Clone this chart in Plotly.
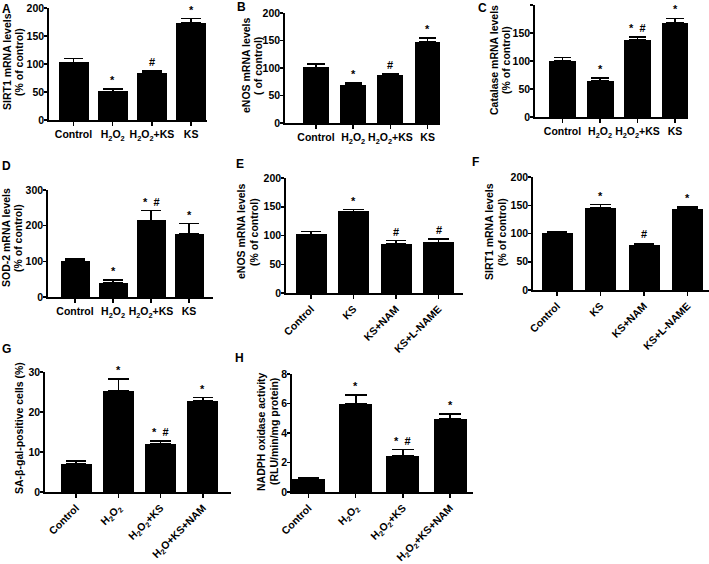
import plotly.graph_objects as go

W, H = 709, 564

# ---------------- data ----------------
cats_abcd = ["Control", "H<sub>2</sub>O<sub>2</sub>", "H<sub>2</sub>O<sub>2</sub>+KS", "KS"]
cats_ef = ["Control", "KS", "KS+NAM", "KS+L-NAME"]
cats_g = ["Control", "H<sub>2</sub>O<sub>2</sub>", "H<sub>2</sub>O<sub>2</sub>+KS", "H<sub>2</sub>O+KS+NAM"]
cats_h = ["Control", "H<sub>2</sub>O<sub>2</sub>", "H<sub>2</sub>O<sub>2</sub>+KS", "H<sub>2</sub>O<sub>2</sub>+KS+NAM"]

sirt1_mean = [103, 51, 84, 173]
sirt1_err = [7, 4, 4, 8]
sirt1_sig = ["", "*", "#", "*"]

enos_mean = [101, 69.5, 87, 148]
enos_err = [6, 3, 2, 7]
enos_sig = ["", "*", "#", "*"]

catalase_mean = [100, 65, 137, 168]
catalase_err = [6, 5, 6, 8]
catalase_sig = ["", "*", "* #", "*"]

sod2_mean = [102, 39, 215, 177]
sod2_err = [5, 9, 27, 29]
sod2_sig = ["", "*", "* #", "*"]

enos2_mean = [102, 142, 85, 88]
enos2_err = [5, 3, 6, 6]
enos2_sig = ["", "*", "#", "#"]

sirt1b_mean = [101, 146, 80.5, 143]
sirt1b_err = [2, 5, 2, 4]
sirt1b_sig = ["", "*", "#", "*"]

sagal_mean = [7.0, 25.2, 12.0, 22.8]
sagal_err = [0.8, 3.0, 0.8, 0.8]
sagal_sig = ["", "*", "* #", "*"]

nadph_mean = [0.88, 6.0, 2.45, 4.95]
nadph_err = [0.1, 0.57, 0.42, 0.33]
nadph_sig = ["", "*", "* #", "*"]

panels = [
    dict(letter="A", cats=cats_abcd, mean=sirt1_mean, err=sirt1_err, sig=sirt1_sig,
         title=["SIRT1 mRNA levels", "(% of control)"], ymax=200, dtick=50, angle=0),
    dict(letter="B", cats=cats_abcd, mean=enos_mean, err=enos_err, sig=enos_sig,
         title=["eNOS mRNA levels", "( of control)"], ymax=200, dtick=50, angle=0),
    dict(letter="C", cats=cats_abcd, mean=catalase_mean, err=catalase_err, sig=catalase_sig,
         title=["Catalase mRNA levels", "(% of control)"], ymax=200, dtick=50, angle=0),
    dict(letter="D", cats=cats_abcd, mean=sod2_mean, err=sod2_err, sig=sod2_sig,
         title=["SOD-2 mRNA levels", "(% of control)"], ymax=300, dtick=100, angle=0),
    dict(letter="E", cats=cats_ef, mean=enos2_mean, err=enos2_err, sig=enos2_sig,
         title=["eNOS mRNA levels", "(% of control)"], ymax=200, dtick=50, angle=-45),
    dict(letter="F", cats=cats_ef, mean=sirt1b_mean, err=sirt1b_err, sig=sirt1b_sig,
         title=["SIRT1 mRNA levels", "(% of control)"], ymax=200, dtick=50, angle=-45),
    dict(letter="G", cats=cats_g, mean=sagal_mean, err=sagal_err, sig=sagal_sig,
         title=["SA-β-gal-positive cells (%)"], ymax=30, dtick=10, angle=-45),
    dict(letter="H", cats=cats_h, mean=nadph_mean, err=nadph_err, sig=nadph_sig,
         title=["NADPH oxidase activity", "(RLU/min/mg protein)"], ymax=8, dtick=2, angle=-45),
]

# ---------------- geometry (pixels) ----------------
geom = {
    "A": dict(x0=49, x1=207, c0=73.5, s=39.2, bw=30, y0=120, yt=8, tx=[7, 19], ty=62, lx=6, ly=9),
    "B": dict(x0=285, x1=440, c0=316, s=37.2, bw=26, y0=123, yt=13, tx=[246, 258], ty=66, lx=241, ly=7),
    "C": dict(x0=535, x1=688, c0=562.5, s=37.5, bw=27, y0=117, yt=5, tx=[494, 506], ty=60, lx=482, ly=8),
    "D": dict(x0=48, x1=213, c0=75, s=38, bw=29, y0=297, yt=190, tx=[6, 18], ty=238, lx=6, ly=166),
    "E": dict(x0=286, x1=463, c0=311, s=42.5, bw=31, y0=293, yt=178, tx=[241, 254], ty=232, lx=240, ly=164),
    "F": dict(x0=533, x1=709, c0=557, s=43.5, bw=31, y0=290, yt=177, tx=[489, 502], ty=232, lx=476, ly=162),
    "G": dict(x0=45, x1=231, c0=76, s=42.3, bw=31, y0=492, yt=372, tx=[19], ty=428, lx=6, ly=349),
    "H": dict(x0=292, x1=473, c0=308.5, s=47.2, bw=33, y0=492, yt=374, tx=[261, 274], ty=432, lx=240, ly=358),
}

FONT = "Liberation Sans, Arial, sans-serif"
fig = go.Figure()
annotations = []
layout = {}

for i, p in enumerate(panels):
    g = geom[p["letter"]]
    n = i + 1
    xa = "xaxis" if n == 1 else f"xaxis{n}"
    ya = "yaxis" if n == 1 else f"yaxis{n}"
    xr = "x" if n == 1 else f"x{n}"
    yr = "y" if n == 1 else f"y{n}"
    s = g["s"]
    xmin = -(g["c0"] - g["x0"]) / s
    xmax = 3 + (g["x1"] - (g["c0"] + 3 * s)) / s
    xs = list(range(len(p["cats"])))
    fig.add_trace(go.Bar(
        x=xs, y=p["mean"], width=g["bw"] / s, marker=dict(color="black", line=dict(width=0)),
        error_y=dict(type="data", array=p["err"], arrayminus=[0] * len(xs), symmetric=False,
                     color="black", thickness=1.6, width=g["bw"] * 0.33),
        xaxis=xr, yaxis=yr, showlegend=False, hoverinfo="skip"))
    layout[xa] = dict(
        domain=[g["x0"] / W, g["x1"] / W], range=[xmin, xmax], anchor=yr, automargin=False,
        tickvals=xs, ticktext=p["cats"], tickangle=p["angle"],
        showline=True, linecolor="black", linewidth=1.8, ticks="outside", ticklen=4,
        tickwidth=1.5, tickcolor="black", showgrid=False, zeroline=False,
        tickfont=dict(family=FONT, size=10.5, color="black", weight="bold"), fixedrange=True)
    layout[ya] = dict(
        domain=[1 - g["y0"] / H, 1 - g["yt"] / H], range=[0, p["ymax"]], anchor=xr, automargin=False,
        dtick=p["dtick"], showline=True, linecolor="black", linewidth=1.8, ticks="outside",
        ticklen=3, tickwidth=1.5, tickcolor="black", showgrid=False, zeroline=False,
        ticklabelstandoff=-2,
        tickfont=dict(family=FONT, size=10.5, color="black", weight="bold"), fixedrange=True)
    # significance markers
    for j, sg in enumerate(p["sig"]):
        if sg:
            annotations.append(dict(
                x=j, y=p["mean"][j] + p["err"][j], xref=xr, yref=yr,
                text=sg.replace(" ", "\u00a0\u00a0"), showarrow=False,
                yanchor="bottom", yshift=1, font=dict(family=FONT, size=11, color="black", weight="bold")))
    # y titles
    for k, t in enumerate(p["title"]):
        annotations.append(dict(
            x=g["tx"][k] / W, y=1 - g["ty"] / H, xref="paper", yref="paper", text=t, textangle=-90,
            showarrow=False, xanchor="center", yanchor="middle",
            font=dict(family=FONT, size=10.5, color="black", weight="bold")))
    # panel letter
    annotations.append(dict(
        x=g["lx"] / W, y=1 - g["ly"] / H, xref="paper", yref="paper", text=p["letter"],
        showarrow=False, xanchor="center", yanchor="middle",
        font=dict(family=FONT, size=12, color="black", weight="bold")))

fig.update_layout(
    template="none",
    width=W, height=H, autosize=False, margin=dict(l=0, r=0, t=0, b=0, pad=0),
    paper_bgcolor="white", plot_bgcolor="white", annotations=annotations, bargap=0,
    **layout)

fig.write_html(
    "out.html",
    config={"displayModeBar": False, "staticPlot": True},
    post_script="document.body.style.margin='0';document.body.style.overflow='hidden';",
)
